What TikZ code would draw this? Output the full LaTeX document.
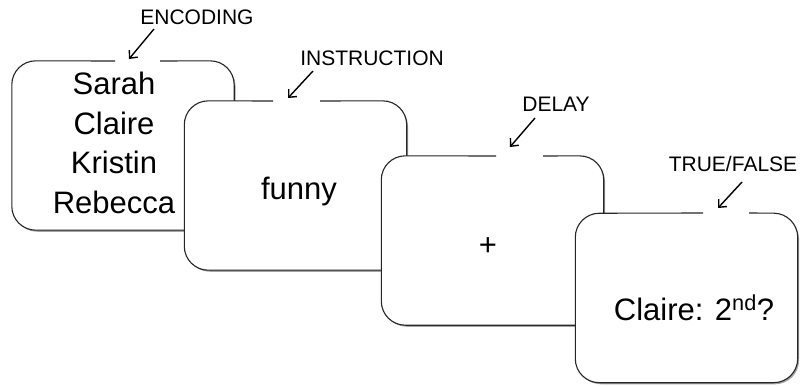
\documentclass[tikz,border=0pt]{standalone}
\usepackage{fontspec}
\setmainfont{Liberation Sans}
\usetikzlibrary{arrows.meta,shadows}

\tikzset{
  card/.style={rectangle, rounded corners=24pt, fill=white, draw=none,
    minimum width=222pt, minimum height=169pt, inner sep=0pt,
    drop shadow={shadow xshift=1.6pt, shadow yshift=-1.8pt, opacity=0.35, fill=black}},
  rim/.style={draw=black!85, line width=1.1pt, rounded corners=24pt},
  bigtext/.style={inner sep=0pt, align=center, font=\fontsize{31}{39.5}\selectfont},
  tag/.style={inner sep=0pt, anchor=base, font=\fontsize{21}{24}\selectfont},
  pointer/.style={draw=black, line width=1.4pt, -{Straight Barb[length=6pt,width=11pt]}}
}

\begin{document}
\begin{tikzpicture}[x=1pt, y=-1pt]
  \useasboundingbox (0,0) rectangle (800,387);

  % ---- card 1: encoding ----
  \node[card] (c1) at (123,145.5) {};
  \coordinate (g1a) at (115,61);
  \coordinate (g1b) at (160,61);
  \draw[rim] (g1b) -- (c1.north east) -- (c1.south east) -- (c1.south west) -- (c1.north west) -- (g1a);
  \node[bigtext, anchor=north] (t1) at (114,72) {Sarah\\Claire\\Kristin\\Rebecca};
  \node[tag] (l1) at (197,25) {ENCODING};
  \coordinate (a1) at (154,29);
  \coordinate (p1) at (129,59);
  \draw[pointer] (a1) -- (p1);

  % ---- card 2: instruction ----
  \node[card] (c2) at (295.5,185.5) {};
  \coordinate (g2a) at (273,101);
  \coordinate (g2b) at (320,101);
  \draw[rim] (g2b) -- (c2.north east) -- (c2.south east) -- (c2.south west) -- (c2.north west) -- (g2a);
  \node[bigtext, anchor=base] (t2) at (299,200) {funny};
  \node[tag] (l2) at (372,66) {INSTRUCTION};
  \coordinate (a2) at (313,71);
  \coordinate (p2) at (288,98);
  \draw[pointer] (a2) -- (p2);

  % ---- card 3: delay ----
  \node[card] (c3) at (492.5,240.5) {};
  \coordinate (g3a) at (496,156);
  \coordinate (g3b) at (543,156);
  \draw[rim] (g3b) -- (c3.north east) -- (c3.south east) -- (c3.south west) -- (c3.north west) -- (g3a);
  \node[bigtext, anchor=base] (t3) at (488,255.5) {+};
  \node[tag] (l3) at (556,112) {DELAY};
  \coordinate (a3) at (535,118);
  \coordinate (p3) at (510,147);
  \draw[pointer] (a3) -- (p3);

  % ---- card 4: true/false probe ----
  \node[card] (c4) at (686.5,298) {};
  \coordinate (g4a) at (703,213);
  \coordinate (g4b) at (749,213);
  \draw[rim] (g4b) -- (c4.north east) -- (c4.south east) -- (c4.south west) -- (c4.north west) -- (g4a);
  \node[bigtext, anchor=base] (t4) at (694,320) {Claire: 2\textsuperscript{nd}?};
  \node[tag] (l4) at (733,172) {TRUE/FALSE};
  \coordinate (a4) at (742,182);
  \coordinate (p4) at (718,208);
  \draw[pointer] (a4) -- (p4);
\end{tikzpicture}
\end{document}
